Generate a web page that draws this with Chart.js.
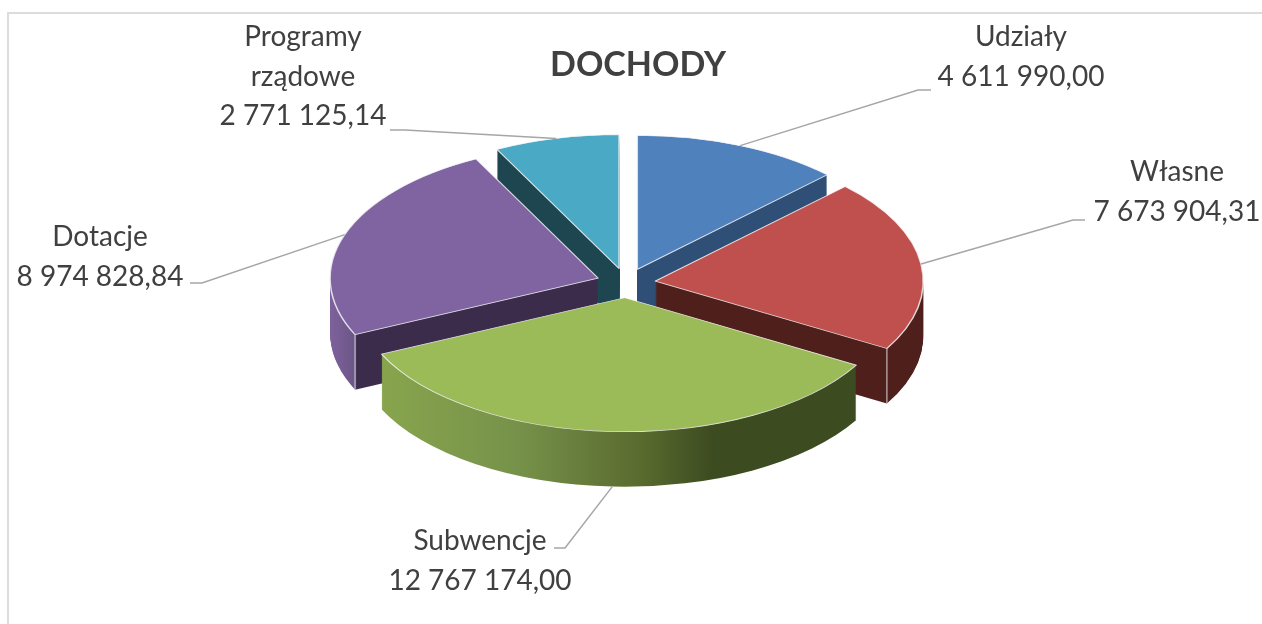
<!DOCTYPE html>
<html lang="pl">
<head>
<meta charset="utf-8">
<title>DOCHODY</title>
<script src="https://cdn.jsdelivr.net/npm/chart.js@4"></script>
<style>
    html, body { margin: 0; padding: 0; background: #fff; overflow: hidden; }
    #frame { position: absolute; left: 7px; top: 12px; width: 1270px; height: 630px; border: 2px solid #dcdcdc; }
    canvas { position: absolute; left: 0; top: 0; display: block; }
</style>
</head>
<body>
<div id="frame"></div>
<canvas id="chart" width="1262" height="624"></canvas>
<script>
const titleText = "DOCHODY";
const categories = ["Udziały", "Własne", "Subwencje", "Dotacje", "Programy rządowe"];
const values = [4611990.00, 7673904.31, 12767174.00, 8974828.84, 2771125.14];
const categoryLines = [["Udziały"], ["Własne"], ["Subwencje"], ["Dotacje"], ["Programy", "rządowe"]];

const topColors = ["#4f81bd", "#c0504d", "#9bbb59", "#8064a2", "#4aa9c4"];
// wall gradients run across the full circle of each slice, left to right
const wallStops = [
    [[0, "#2f4f76"], [1, "#2f4f76"]],
    [[0, "#4f1f1c"], [1, "#4f1f1c"]],
    [[0, "#8bab50"], [0.054, "#87a44d"], [0.3, "#76924a"], [0.534, "#596a2e"], [0.664, "#3d4b20"], [1, "#3d4b20"]],
    [[0, "#7d629b"], [0.045, "#6c5688"], [0.05, "#3a2c4a"], [1, "#3a2c4a"]],
    [[0, "#1d4650"], [1, "#1d4650"]],
];
const wallEdge = [null, "endAngle", null, "startAngle", null];

// label layout in page pixels
const labelX = [1021, 1177, 480, 100, 303];
const labelY = [37, 172, 541, 237, 37];
const labelLineHeight = 39.5;
const leaderElbowX = [918, 1073, 565, 202, 405];
const leaderElbowY = [90, 220, 548, 283, 130];
const leaderEndX = [931, 1085, 554, 190, 390];

const tilt = 0.5;
const depth = 55;
const explode = 29.5;

const textFont = '"Lato", "Open Sans", sans-serif';

function formatValue(v) {
    const [whole, frac] = v.toFixed(2).split(".");
    return whole.replace(/\B(?=(\d{3})+$)/g, " ") + "," + frac;
}

function centerY(chart) {
    return (chart.chartArea.top + chart.chartArea.bottom) / 2;
}

function sliceGeometry(chart, arc) {
    const cy = centerY(chart);
    return {
        mid: (arc.startAngle + arc.endAngle) / 2,
        cx: arc.x,
        cy: cy + (arc.y - cy) * tilt,
        radius: arc.outerRadius,
    };
}

function applyTilt(chart, ctx, drop) {
    const cy = centerY(chart);
    ctx.translate(0, cy + drop);
    ctx.scale(1, tilt);
    ctx.translate(0, -cy);
}

const pie3d = {
    id: "pie3d",
    // pull the slices apart by moving each arc along its own mid angle
    afterDatasetsUpdate(chart) {
        chart.getDatasetMeta(0).data.forEach((arc) => {
            const mid = (arc.startAngle + arc.endAngle) / 2;
            arc.x += Math.cos(mid) * explode;
            arc.y += Math.sin(mid) * explode;
        });
    },
    beforeDatasetDraw(chart, args) {
        const ctx = chart.ctx;
        const arcs = args.meta.data;
        const order = arcs.map((a, i) => i).sort((a, b) => arcs[a].y - arcs[b].y);

        order.forEach((i) => {
            const arc = arcs[i];
            const g = sliceGeometry(chart, arc);
            const grad = ctx.createLinearGradient(g.cx - g.radius, 0, g.cx + g.radius, 0);
            wallStops[i].forEach((s) => grad.addColorStop(s[0], s[1]));

            const saved = arc.options;
            arc.options = Object.assign({}, saved, { backgroundColor: grad, borderWidth: 0 });
            for (let drop = depth; drop >= 1; drop--) {
                ctx.save();
                applyTilt(chart, ctx, drop);
                arc.draw(ctx);
                ctx.restore();
            }
            arc.options = saved;

            if (wallEdge[i]) {
                const a = arc[wallEdge[i]];
                const x = g.cx + Math.cos(a) * g.radius;
                const y = g.cy + Math.sin(a) * g.radius * tilt;
                ctx.save();
                ctx.strokeStyle = "rgba(225,225,225,0.8)";
                ctx.lineWidth = 1.2;
                ctx.beginPath();
                ctx.moveTo(x, y);
                ctx.lineTo(x, y + depth);
                ctx.stroke();
                ctx.restore();
            }
        });

        ctx.save();
        applyTilt(chart, ctx, 0);
    },
    afterDatasetDraw(chart) {
        chart.ctx.restore();
    },
    afterDraw(chart) {
        const ctx = chart.ctx;
        const arcs = chart.getDatasetMeta(0).data;
        ctx.save();

        ctx.fillStyle = "#404040";
        ctx.textAlign = "center";
        ctx.textBaseline = "middle";
        ctx.font = "bold 34px " + textFont;
        ctx.fillText(titleText, 638, 65);

        arcs.forEach((arc, i) => {
            const g = sliceGeometry(chart, arc);
            // the leader of a front slice hangs from the bottom of its wall
            const front = Math.sin(g.mid) > 0.7 ? depth : 0;
            ctx.strokeStyle = "#a6a6a6";
            ctx.lineWidth = 1.5;
            ctx.beginPath();
            ctx.moveTo(g.cx + Math.cos(g.mid) * g.radius, g.cy + Math.sin(g.mid) * g.radius * tilt + front);
            ctx.lineTo(leaderElbowX[i], leaderElbowY[i]);
            ctx.lineTo(leaderEndX[i], leaderElbowY[i]);
            ctx.stroke();

            ctx.fillStyle = "#404040";
            ctx.font = "28px " + textFont;
            const lines = categoryLines[i].concat(formatValue(values[i]));
            lines.forEach((line, n) => ctx.fillText(line, labelX[i], labelY[i] + n * labelLineHeight));
        });
        ctx.restore();
    },
};

new Chart(document.getElementById("chart"), {
    type: "pie",
    data: {
        labels: categories,
        datasets: [
            {
                data: values,
                backgroundColor: topColors,
                borderColor: "rgba(245,245,245,0.85)",
                borderWidth: 1.5,
                clip: false,
            },
        ],
    },
    options: {
        responsive: false,
        animation: false,
        radius: 268,
        layout: { padding: { right: 10, bottom: 58 } },
        plugins: { legend: { display: false }, tooltip: { enabled: false }, title: { display: false } },
    },
    plugins: [pie3d],
});
</script>
</body>
</html>
